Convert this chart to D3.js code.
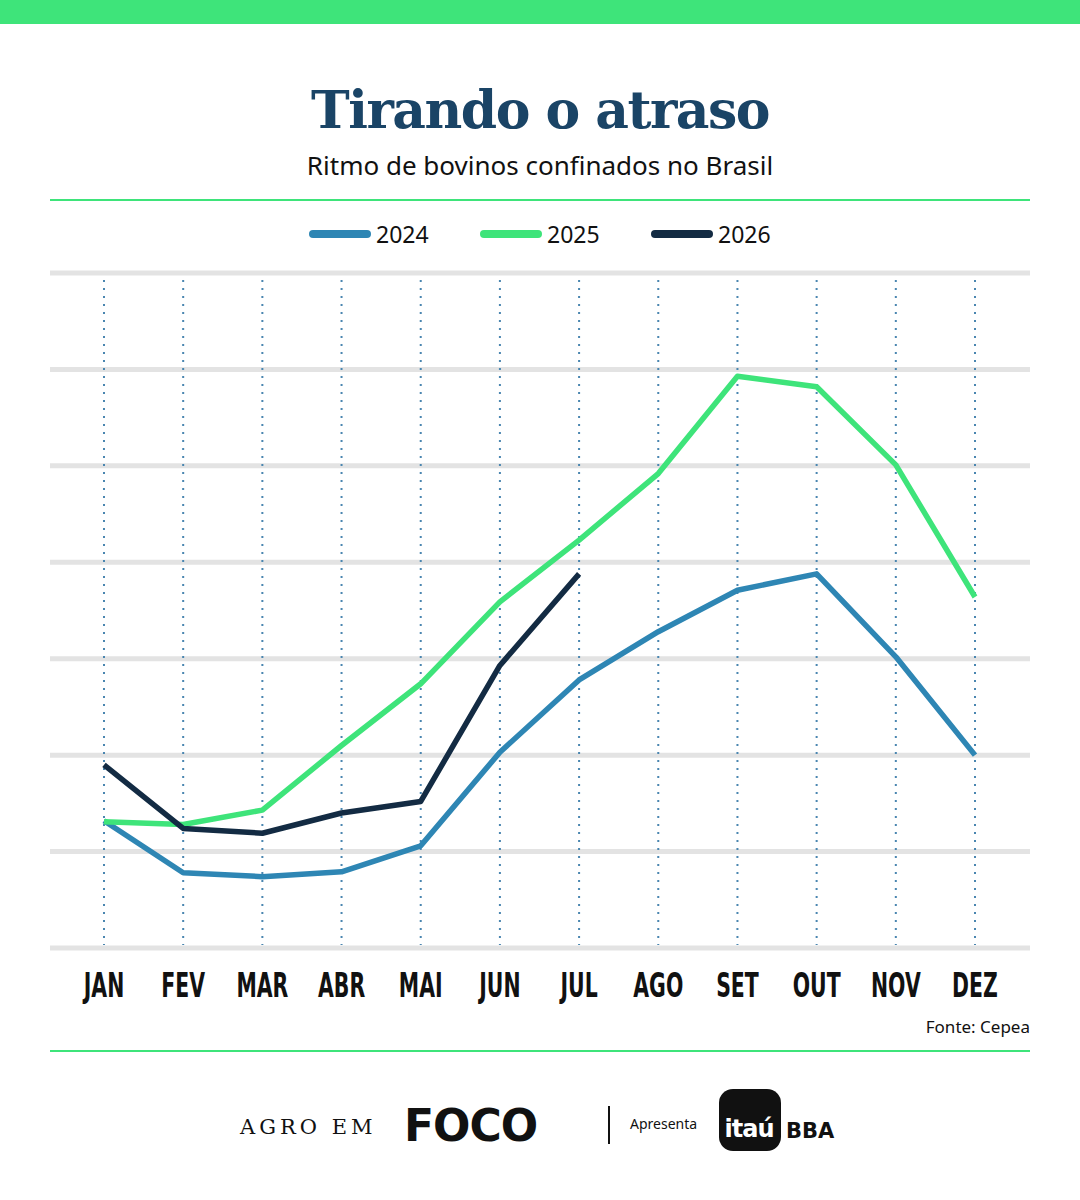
<!DOCTYPE html>
<html><head><meta charset="utf-8">
<script src="https://cdn.jsdelivr.net/npm/d3@7"></script>
<style>body{margin:0;background:#fff}svg{display:block}</style>
</head><body>
<svg id="chart"></svg>
<script>
const months = ['JAN','FEV','MAR','ABR','MAI','JUN','JUL','AGO','SET','OUT','NOV','DEZ']
const years = ['2024','2025','2026']
const colors = ['#2e86b4','#3ee47a','#132b43']
const v2024 = [1.32,0.78,0.74,0.79,1.06,2.03,2.78,3.28,3.71,3.88,3.02,2.0]
const v2025 = [1.31,1.28,1.43,2.10,2.74,3.59,4.23,4.92,5.93,5.82,5.01,3.64]
const v2026 = [1.90,1.24,1.19,1.40,1.52,2.93,3.88]
const series = [v2024, v2025, v2026]
const yTicks = [0,1,2,3,4,5,6,7]

const width = 1080, height = 1200
const svg = d3.select('#chart').attr('width', width).attr('height', height)

svg.append('rect').attr('width', width).attr('height', 24).attr('fill', '#3ee47a')

svg.append('text').attr('x', 540).attr('y', 128).attr('text-anchor', 'middle')
  .attr('font-family', 'DejaVu Serif').attr('font-weight', 'bold').attr('font-size', 52)
  .attr('fill', '#1a4466').attr('letter-spacing', -1.5).text('Tirando o atraso')
svg.append('text').attr('x', 540).attr('y', 175).attr('text-anchor', 'middle')
  .attr('font-family', 'Noto Sans').attr('font-size', 26).attr('fill', '#111')
  .text('Ritmo de bovinos confinados no Brasil')

svg.selectAll('line.sep').data([200, 1051]).enter().append('line')
  .attr('x1', 50).attr('x2', 1030).attr('y1', d => d).attr('y2', d => d)
  .attr('stroke', '#3ee47a').attr('stroke-width', 2)

// legend
const leg = svg.append('g')
years.forEach((y, i) => {
  const x0 = 313 + i * 171
  leg.append('line').attr('x1', x0).attr('x2', x0 + 54).attr('y1', 234).attr('y2', 234)
    .attr('stroke', colors[i]).attr('stroke-width', 8).attr('stroke-linecap', 'round')
  leg.append('text').attr('x', x0 + 63).attr('y', 243).attr('font-family', 'Noto Sans')
    .attr('font-size', 23).attr('fill', '#111').text(y)
})

const x = d3.scalePoint().domain(months).range([104, 975])
const y = d3.scaleLinear().domain([0, 7]).range([948, 273])

const g = svg.append('g')
g.selectAll('line.grid').data(yTicks).enter().append('line')
  .attr('x1', 50).attr('x2', 1030).attr('y1', d => y(d)).attr('y2', d => y(d))
  .attr('stroke', '#e3e3e3').attr('stroke-width', 5)
g.selectAll('line.vg').data(months).enter().append('line')
  .attr('x1', d => x(d)).attr('x2', d => x(d)).attr('y1', 280).attr('y2', 945)
  .attr('stroke', '#4a86b0').attr('stroke-width', 2).attr('stroke-dasharray', '2,6')

const line = d3.line().x((d, i) => x(months[i])).y(d => y(d))
series.forEach((s, i) => {
  g.append('path').attr('d', line(s)).attr('fill', 'none')
    .attr('stroke', colors[i]).attr('stroke-width', 5.5).attr('stroke-linejoin', 'round')
})

// condensed month labels (scaled horizontally)
svg.append('g').selectAll('text').data(months).enter().append('text')
  .attr('transform', d => `translate(${x(d)},997) scale(0.62,1)`)
  .attr('text-anchor', 'middle').attr('font-family', 'DejaVu Sans').attr('font-weight', 'bold')
  .attr('font-size', 33).attr('fill', '#111').text(d => d)

svg.append('text').attr('x', 1030).attr('y', 1033).attr('text-anchor', 'end')
  .attr('font-family', 'Noto Sans').attr('font-size', 17).attr('fill', '#111').text('Fonte: Cepea')

// footer
svg.append('text').attr('x', 240).attr('y', 1134).attr('font-family', 'DejaVu Serif')
  .attr('font-size', 21).attr('letter-spacing', 4).attr('fill', '#111').text('AGRO EM')
svg.append('text').attr('x', 404).attr('y', 1141).attr('font-family', 'DejaVu Sans')
  .attr('font-weight', 'bold').attr('font-size', 44).attr('fill', '#111').attr('letter-spacing', -1).text('FOCO')
svg.append('line').attr('x1', 609).attr('x2', 609).attr('y1', 1106).attr('y2', 1144)
  .attr('stroke', '#111').attr('stroke-width', 2)
svg.append('text').attr('x', 630).attr('y', 1129).attr('font-family', 'Noto Sans')
  .attr('font-size', 14).attr('fill', '#111').text('Apresenta')
svg.append('rect').attr('x', 719).attr('y', 1089).attr('width', 62).attr('height', 62)
  .attr('rx', 14).attr('fill', '#111')
svg.append('text').attr('x', 749).attr('y', 1137).attr('text-anchor', 'middle').attr('font-family', 'DejaVu Sans')
  .attr('font-weight', 'bold').attr('font-size', 24).attr('fill', '#fff').attr('letter-spacing', -1).text('itaú')
svg.append('text').attr('x', 786).attr('y', 1138).attr('font-family', 'DejaVu Sans')
  .attr('font-weight', 'bold').attr('font-size', 21).attr('fill', '#111').text('BBA')
</script>
</body></html>
